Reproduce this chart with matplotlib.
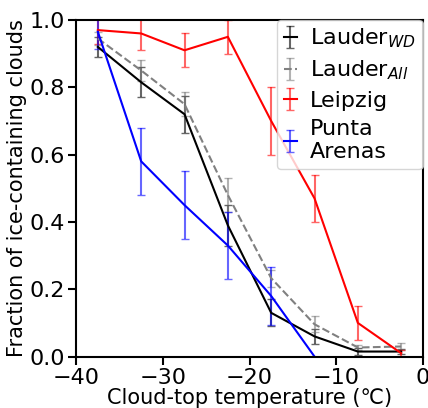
import numpy as np
import matplotlib
matplotlib.use("Agg")
import matplotlib.pyplot as plt

temps = [-37.5, -32.5, -27.5, -22.5, -17.5, -12.5, -7.5, -2.5]

lauder_wd = [0.92, 0.815, 0.72, 0.39, 0.13, 0.06, 0.015, 0.015]
lauder_wd_err = [0.03, 0.045, 0.055, 0.06, 0.04, 0.022, 0.01, 0.008]

lauder_all = [0.945, 0.85, 0.75, 0.48, 0.233, 0.096, 0.027, 0.03]
lauder_all_err = [0.02, 0.03, 0.035, 0.05, 0.025, 0.024, 0.008, 0.01]

leipzig = [0.97, 0.96, 0.91, 0.95, 0.70, 0.47, 0.10, 0.01]
leipzig_err = [0.04, 0.05, 0.05, 0.05, 0.10, 0.07, 0.05, 0.01]

punta_t = [-37.5, -32.5, -27.5, -22.5, -17.5, -12.5]
punta = [0.965, 0.58, 0.45, 0.33, 0.18, 0.0]
punta_err = [0.05, 0.10, 0.10, 0.10, 0.085, 0.0]

fig = plt.figure(figsize=(4.28, 4.08), dpi=100)
ax = fig.add_axes([0.178, 0.126, 0.81, 0.825])

ax.errorbar(temps, lauder_wd, yerr=lauder_wd_err, color="black", ecolor=(0, 0, 0, 0.6),
            lw=1.5, capsize=3, label="Lauder$_{WD}$")
ax.errorbar(temps, lauder_all, yerr=lauder_all_err, color="gray", ecolor=(0.5, 0.5, 0.5, 0.6),
            lw=1.5, ls="--", capsize=3, label="Lauder$_{All}$")
ax.errorbar(temps, leipzig, yerr=leipzig_err, color="red", ecolor=(1, 0, 0, 0.6),
            lw=1.5, capsize=3, label="Leipzig")
ax.errorbar(punta_t, punta, yerr=punta_err, color="blue", ecolor=(0, 0, 1, 0.6),
            lw=1.5, capsize=3, label="Punta\nArenas")

ax.set_xlim(-40, 0)
ax.set_ylim(0, 1)
ax.set_xticks([-40, -30, -20, -10, 0])
ax.set_yticks([0, 0.2, 0.4, 0.6, 0.8, 1.0])
ax.tick_params(labelsize=16, width=1.5, length=6, pad=2)
for s in ax.spines.values():
    s.set_linewidth(1.5)
ax.set_xlabel("Cloud-top temperature (℃)", fontsize=15, labelpad=0)
ax.set_ylabel("Fraction of ice-containing clouds", fontsize=15, labelpad=2)
ax.legend(loc="upper right", fontsize=16, borderaxespad=0.0, handlelength=0.6,
          handletextpad=0.6, labelspacing=0.38, borderpad=0.3)

fig.savefig("out.png", dpi=100)
